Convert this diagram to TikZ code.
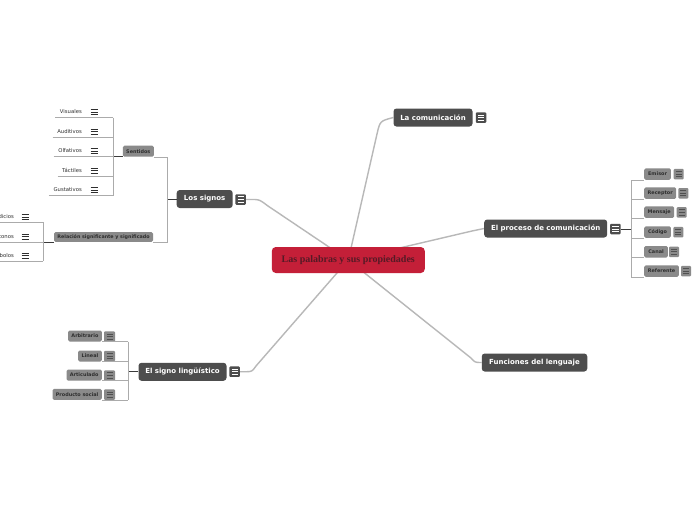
\documentclass[tikz,border=0pt]{standalone}
\usepackage{fontspec}
\newfontfamily\mmsans{DejaVu Sans}
\newfontfamily\mmserif{Liberation Serif}
\usetikzlibrary{backgrounds}
\definecolor{mmdark}{HTML}{4D4D4D}
\definecolor{mmred}{HTML}{C41F38}
\definecolor{mmtitle}{HTML}{561A26}
\definecolor{mmgray}{HTML}{8A8A8A}
\definecolor{mmtext}{HTML}{2E2E2E}
\definecolor{mmline}{HTML}{B8B8B8}
\definecolor{mmthin}{HTML}{ABABAB}
\definecolor{mmstub}{HTML}{3A3A3A}
\definecolor{mmicon}{HTML}{505050}
\begin{document}
\begin{tikzpicture}[x=1pt,y=-1pt,
  central/.style={fill=mmred, rounded corners=4pt, text=mmtitle,
    font=\mmserif\bfseries\fontsize{10}{12}\selectfont, inner sep=0,
    minimum width=153, minimum height=26},
  mainbox/.style={fill=mmdark, rounded corners=3pt, text=white,
    font=\mmsans\bfseries\fontsize{7}{8}\selectfont, inner sep=0, minimum height=18},
  subbox/.style={fill=mmgray, rounded corners=1.5pt, text=mmtext,
    font=\mmsans\bfseries\fontsize{4.9}{6}\selectfont, inner sep=0, minimum height=11.5},
  leaf/.style={text=mmtext, font=\mmsans\fontsize{5.3}{6}\selectfont,
    inner xsep=4.5, inner ysep=0, minimum height=11},
  mainicon/.style={fill=mmdark, rounded corners=1pt, minimum width=10.5,
    minimum height=10.5, inner sep=0,
    path picture={\foreach \dy in {-2.6,0,2.6}{\draw[white, line width=0.9pt]
      ([xshift=-3.2pt, yshift=\dy pt]path picture bounding box.center) -- ++(6.4pt,0pt);}}},
  subicon/.style={fill=mmgray, rounded corners=1pt, minimum width=10,
    minimum height=10.5, inner sep=0,
    path picture={\foreach \dy in {-2.6,0,2.6}{\draw[mmicon, line width=1pt]
      ([xshift=-3pt, yshift=\dy pt]path picture bounding box.center) -- ++(6pt,0pt);}}},
  leaficon/.style={minimum width=8, minimum height=8, inner sep=0,
    path picture={\foreach \dy in {-2.5,0,2.5}{\draw[mmtext, line width=0.6pt]
      ([xshift=-3.5pt, yshift=\dy pt]path picture bounding box.center) -- ++(7pt,0pt);}}},
  conn/.style={draw=mmline, line width=1.4pt},
  branch/.style={draw=mmthin, line width=0.8pt},
  stub/.style={draw=mmstub, line width=0.9pt}
]
\useasboundingbox (0,0) rectangle (697,520);
\begin{scope}[on background layer]
  \fill[white] (0,0) rectangle (697,520);
\end{scope}
\clip (0,0) rectangle (697,520);

% ---------- main nodes ----------
\node[central] (root) at (348.3,260) {Las palabras y sus propiedades};
\node[mainbox, minimum width=79] (com) at (433,117.5) {La comunicación};
\node[mainicon] (comI) at (481,117.7) {};
\node[mainbox, minimum width=123] (proc) at (545.7,228.5) {El proceso de comunicación};
\node[mainicon] (procI) at (615.3,229) {};
\node[mainbox, minimum width=105.5] (func) at (534.5,362.5) {Funciones del lenguaje};
\node[mainbox, minimum width=56] (signos) at (204.7,199) {Los signos};
\node[mainicon] (signosI) at (240.7,199.5) {};
\node[mainbox, minimum width=88] (ling) at (182.5,371.8) {El signo lingüístico};
\node[mainicon] (lingI) at (234.7,371.7) {};

% ---------- main connectors ----------
\begin{scope}[on background layer]
  \draw[conn] (root.center) -- (377,134) .. controls (380,121) .. (com.west);
  \draw[conn] (root.center) -- (472,231) .. controls (478,229) .. (proc.west);
  \draw[conn] (root.center) -- (471,358) .. controls (475,362.5) .. (func.west);
  \draw[conn] (signosI.east) -- (255,199.5) .. controls (260,200) .. (268,206) -- (root.center);
  \draw[conn] (lingI.east) -- (247,371.7) .. controls (252,371.5) .. (256,366) -- (root.center);
\end{scope}

% ---------- Los signos ----------
\coordinate (bSig) at (167,0);
\node[subbox, minimum width=31, minimum height=11] (sent) at (138.3,151.2) {Sentidos};
\node[subbox, minimum width=99, minimum height=9.7, font=\mmsans\bfseries\fontsize{4.8}{6}\selectfont] (rel) at (103.5,236.9) {Relación significante y significado};
\draw[stub] (signos.west) -- (signos.west -| bSig);
\draw[branch] (sent.south east) -- (sent.south east -| bSig) -- (rel.south east -| bSig) -- (rel.south east);

% Sentidos leaves
\coordinate (bSen) at (113,0);
\node[leaf, anchor=south east] (vis) at (86.5,117.5) {Visuales};
\node[leaf, anchor=south east] (aud) at (86.5,137) {Auditivos};
\node[leaf, anchor=south east] (olf) at (86.5,156.7) {Olfativos};
\node[leaf, anchor=south east] (tac) at (86.5,176) {Táctiles};
\node[leaf, anchor=south east] (gus) at (86.5,195.7) {Gustativos};
\node[leaficon] (visI) at (94,112) {};
\node[leaficon] (audI) at (94,131.5) {};
\node[leaficon] (olfI) at (94,151.2) {};
\node[leaficon] (tacI) at (94,170.5) {};
\node[leaficon] (gusI) at (94,190.2) {};
\draw[stub] (sent.south west) -- (sent.south west -| bSen);
\foreach \n in {vis,aud,olf,tac,gus}{
  \draw[branch] (\n.south west) -- (\n.south west -| bSen);
}
\draw[branch] (vis.south west -| bSen) -- (gus.south west -| bSen);

% Relacion leaves
\coordinate (bRel) at (43.3,0);
\node[leaf, anchor=south east] (ind) at (18.5,222.3) {Indicios};
\node[leaf, anchor=south east] (ico) at (18.5,242) {Iconos};
\node[leaf, anchor=south east] (sim) at (18.5,261) {Símbolos};
\node[leaficon] (indI) at (25,216.8) {};
\node[leaficon] (icoI) at (25,236.5) {};
\node[leaficon] (simI) at (25,255.5) {};
\draw[stub] (rel.south west) -- (rel.south west -| bRel);
\foreach \n in {ind,ico,sim}{
  \draw[branch] (\n.south west) -- (\n.south west -| bRel);
}
\draw[branch] (ind.south west -| bRel) -- (sim.south west -| bRel);

% ---------- El proceso de comunicacion ----------
\coordinate (bProc) at (631.3,0);
\node[subbox, anchor=south west, minimum width=26.7] (emi) at (644,180) {Emisor};
\node[subbox, anchor=south west, minimum width=32] (rec) at (644,199) {Receptor};
\node[subbox, anchor=south west, minimum width=30] (men) at (644,218) {Mensaje};
\node[subbox, anchor=south west, minimum width=26.7] (cod) at (644,238) {Código};
\node[subbox, anchor=south west, minimum width=23.7] (can) at (644,257.7) {Canal};
\node[subbox, anchor=south west, minimum width=34.7] (ref) at (644,277) {Referente};
\node[subicon] (emiI) at (678.7,174.2) {};
\node[subicon] (recI) at (683.3,193.3) {};
\node[subicon] (menI) at (681.7,212.4) {};
\node[subicon] (codI) at (678.3,232.2) {};
\node[subicon] (canI) at (674,251.9) {};
\node[subicon] (refI) at (686,271.2) {};
\draw[stub] (procI.east) -- (procI.east -| bProc);
\foreach \n in {emi,rec,men,cod,can,ref}{
  \draw[branch] (\n.south west -| bProc) -- (\n.south west);
}
\draw[branch] (emi.south west -| bProc) -- (ref.south west -| bProc);

% ---------- El signo linguistico ----------
\coordinate (bLing) at (128.3,0);
\node[subbox, anchor=south east, minimum width=33.7, minimum height=11] (arb) at (102,341.7) {Arbitrario};
\node[subbox, anchor=south east, minimum width=23.7, minimum height=11] (lin) at (102,361.7) {Lineal};
\node[subbox, anchor=south east, minimum width=35.3, minimum height=11] (art) at (102,380.7) {Articulado};
\node[subbox, anchor=south east, minimum width=49.3, minimum height=11] (pro) at (102,400) {Producto social};
\node[subicon, minimum width=11] (arbI) at (109.5,336.7) {};
\node[subicon, minimum width=11] (linI) at (109.5,356.2) {};
\node[subicon, minimum width=11] (artI) at (109.5,375.5) {};
\node[subicon, minimum width=11] (proI) at (109.5,394.7) {};
\draw[stub] (ling.west) -- (ling.west -| bLing);
\foreach \n in {arb,lin,art,pro}{
  \draw[branch] (\n.south east) -- (\n.south east -| bLing);
}
\draw[branch] (arb.south east -| bLing) -- (pro.south east -| bLing);
\end{tikzpicture}
\end{document}
